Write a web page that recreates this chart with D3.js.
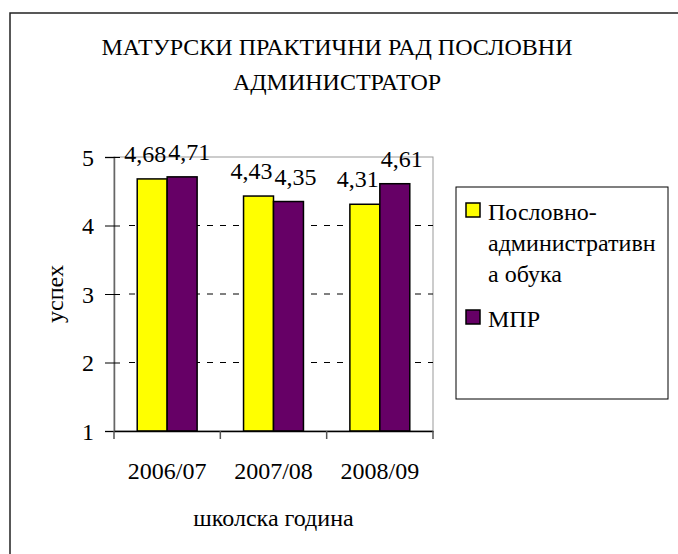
<!DOCTYPE html>
<html>
<head>
<meta charset="utf-8">
<script src="https://cdn.jsdelivr.net/npm/d3@7"></script>
</head>
<body style="margin:0;padding:0;background:#fff">
<svg id="chart" width="678" height="554" style="display:block"></svg>
<script>
const titleLines = ["МАТУРСКИ ПРАКТИЧНИ РАД ПОСЛОВНИ", "АДМИНИСТРАТОР"];
const categories = ["2006/07", "2007/08", "2008/09"];
const seriesNames = ["Пословно-административна обука", "МПР"];
const legendLines = [["Пословно-", "административн", "а обука"], ["МПР"]];
const seriesA = [4.68, 4.43, 4.31];
const seriesB = [4.71, 4.35, 4.61];
const colors = ["#FFFF00", "#660066"];
const yTicks = [1, 2, 3, 4, 5];
const yTitle = "успех";
const xTitle = "школска година";

const FONT = "Liberation Serif";
const svg = d3.select("#chart");
const fs = 24;

// outer frame
svg.append("rect").attr("x", 10).attr("y", 13).attr("width", 700).attr("height", 600)
  .attr("fill", "none").attr("stroke", "#222").attr("stroke-width", 1.5);

const plot = {left: 114, right: 433, top: 157, bottom: 431};

const x = d3.scaleBand().domain(categories).range([plot.left, plot.right])
  .paddingInner(0.4366).paddingOuter(0.2183);
const xs = d3.scaleBand().domain([0, 1]).range([0, x.bandwidth()]);
const y = d3.scaleLinear().domain([1, 5]).range([plot.bottom, plot.top]);

// plot area border
svg.append("rect").attr("x", plot.left).attr("y", plot.top)
  .attr("width", plot.right - plot.left).attr("height", plot.bottom - plot.top)
  .attr("fill", "none").attr("stroke", "#999").attr("stroke-width", 1);

// gridlines
svg.append("g").selectAll("line").data(yTicks.filter(t => t > 1 && t < 5)).join("line")
  .attr("x1", plot.left + 15).attr("x2", plot.right)
  .attr("y1", d => y(d)).attr("y2", d => y(d))
  .attr("stroke", "#000").attr("stroke-width", 1).attr("stroke-dasharray", "6,7");

// bars
const data = categories.map((c, i) => ({cat: c, vals: [seriesA[i], seriesB[i]]}));
const groups = svg.append("g").selectAll("g").data(data).join("g")
  .attr("transform", d => `translate(${x(d.cat)},0)`);
groups.selectAll("rect").data(d => d.vals.map((v, k) => ({v, k}))).join("rect")
  .attr("x", d => xs(d.k)).attr("width", xs.bandwidth())
  .attr("y", d => y(d.v)).attr("height", d => y(1) - y(d.v))
  .attr("fill", d => colors[d.k]).attr("stroke", "#000").attr("stroke-width", 1.5);
groups.selectAll("text").data(d => d.vals.map((v, k) => ({v, k}))).join("text")
  .attr("x", d => xs(d.k) + xs.bandwidth() / 2 + (d.k === 0 ? -7 : 7))
  .attr("y", d => y(d.v) - 17)
  .attr("text-anchor", "middle").attr("font-size", fs).style("font-family", FONT)
  .text(d => d3.format(".2f")(d.v).replace(".", ","));

// y axis
const yAxis = svg.append("g").attr("transform", `translate(${plot.left},0)`)
  .call(d3.axisLeft(y).tickValues(yTicks).tickSize(9).tickPadding(11).tickFormat(d3.format("d")));
yAxis.select(".domain").attr("stroke", "#666").attr("stroke-width", 1.5);
yAxis.selectAll(".tick line").attr("x1", 6).attr("x2", -9).attr("stroke", "#000");
yAxis.selectAll(".tick text").attr("font-size", fs).style("font-family", FONT)
  .attr("dy", "0.35em").attr("fill", "#000");

// x axis
const xAxis = svg.append("g").attr("transform", `translate(0,${plot.bottom})`)
  .call(d3.axisBottom(x).tickSize(0).tickPadding(0));
xAxis.select(".domain").attr("stroke", "#000").attr("stroke-width", 1.5);
xAxis.selectAll(".tick text").attr("font-size", fs).style("font-family", FONT)
  .attr("fill", "#000").attr("y", 48).attr("dy", 0);
const boundaries = [plot.left].concat(categories.map(c => x(c) + x.bandwidth() / 2 + x.step() / 2));
svg.append("g").selectAll("line").data(boundaries).join("line")
  .attr("x1", d => d).attr("x2", d => d).attr("y1", plot.bottom).attr("y2", plot.bottom + 8)
  .attr("stroke", "#555").attr("stroke-width", 1.5);

// titles
svg.append("g").selectAll("text").data(titleLines).join("text")
  .attr("x", 337).attr("y", (d, i) => 55 + i * 35)
  .attr("text-anchor", "middle").attr("font-size", fs).style("font-family", FONT)
  .text(d => d);
svg.append("text").attr("transform", "translate(63,294) rotate(-90)")
  .attr("text-anchor", "middle").attr("font-size", fs).style("font-family", FONT).text(yTitle);
svg.append("text").attr("x", (plot.left + plot.right) / 2).attr("y", 526)
  .attr("text-anchor", "middle").attr("font-size", fs).style("font-family", FONT).text(xTitle);

// legend
const lg = svg.append("g");
lg.append("rect").attr("x", 456).attr("y", 187).attr("width", 212).attr("height", 212)
  .attr("fill", "#fff").attr("stroke", "#000").attr("stroke-width", 1);
const legendTop = [203, 310];
const legendItems = lg.selectAll("g").data(seriesNames).join("g");
legendItems.append("rect").attr("x", 466).attr("y", (d, i) => legendTop[i])
  .attr("width", 14).attr("height", 14)
  .attr("fill", (d, i) => colors[i]).attr("stroke", "#000").attr("stroke-width", 1.5);
legendItems.each(function(d, i) {
  d3.select(this).selectAll("text").data(legendLines[i]).join("text")
    .attr("x", 488).attr("y", (t, j) => legendTop[i] + 17 + j * 31)
    .attr("font-size", fs).style("font-family", FONT).text(t => t);
});
</script>
</body>
</html>
